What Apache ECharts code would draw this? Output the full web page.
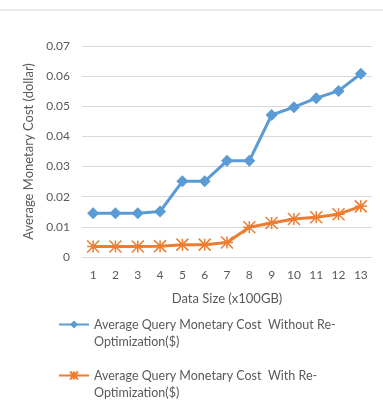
<!DOCTYPE html>
<html>
<head>
<meta charset="utf-8">
<script src="https://cdn.jsdelivr.net/npm/echarts@6/dist/echarts.min.js"></script>
<style>
  html, body { margin: 0; padding: 0; background: #fff; }
  #chart { width: 383px; height: 418px; }
</style>
</head>
<body>
<div id="chart"></div>
<script>
const sizes = ["1", "2", "3", "4", "5", "6", "7", "8", "9", "10", "11", "12", "13"];
const withoutReopt = [0.0145, 0.0145, 0.0145, 0.0151, 0.0251, 0.0251, 0.0319, 0.0319, 0.0471, 0.0497, 0.0527, 0.0551, 0.0608];
const withReopt = [0.0035, 0.0035, 0.0035, 0.0036, 0.0041, 0.0041, 0.0048, 0.0099, 0.0113, 0.0126, 0.0132, 0.0142, 0.0168];
const seriesNames = [
  "Average Query Monetary Cost  Without Re-\nOptimization($)",
  "Average Query Monetary Cost  With Re-\nOptimization($)",
];

const chart = echarts.init(document.getElementById("chart"));
const textColor = "#595959";
const font = "Lato, 'Open Sans', sans-serif";
const star = "path://M0,0L10,10M10,0L0,10M5,0L5,10M0,5L10,5";

chart.setOption({
  animation: false,
  backgroundColor: "#fff",
  textStyle: { fontFamily: font, color: textColor },
  graphic: [{
    type: "line",
    shape: { x1: 0, y1: 10, x2: 383, y2: 10 },
    style: { stroke: "#d9d9d9", lineWidth: 1 },
  }],
  grid: { left: 82, right: 11, top: 46, bottom: 161 },
  xAxis: {
    type: "category",
    data: sizes,
    boundaryGap: true,
    name: "Data Size (x100GB)",
    nameLocation: "middle",
    nameGap: 35,
    nameTextStyle: { fontSize: 13, color: textColor, fontFamily: font },
    axisLine: { lineStyle: { color: "#d9d9d9" } },
    axisTick: { show: false },
    axisLabel: { fontSize: 12, color: textColor, margin: 12, fontFamily: font },
  },
  yAxis: {
    type: "value",
    min: 0,
    max: 0.07,
    interval: 0.01,
    name: "Average Monetary Cost (dollar)",
    nameLocation: "middle",
    nameGap: 43,
    nameTextStyle: { fontSize: 13, color: textColor, fontFamily: font },
    axisLine: { show: false },
    axisTick: { show: false },
    splitLine: { lineStyle: { color: "#d9d9d9" } },
    axisLabel: { fontSize: 12, color: textColor, margin: 12, fontFamily: font,
      formatter: v => v === 0 ? "0" : v.toFixed(2) },
  },
  legend: {
    orient: "vertical",
    left: 53,
    top: 294,
    itemWidth: 30,
    itemHeight: 10,
    itemGap: 0,
    // leading blank line keeps the icon level with the first text line
    formatter: name => "\n" + name,
    textStyle: { fontSize: 12.5, color: textColor, fontFamily: font, lineHeight: 17 },
    data: seriesNames,
  },
  series: [
    {
      name: seriesNames[0],
      type: "line",
      data: withoutReopt,
      symbol: "diamond",
      symbolSize: 12,
      lineStyle: { color: "#5B9BD5", width: 3 },
      itemStyle: { color: "#5B9BD5" },
    },
    {
      name: seriesNames[1],
      type: "line",
      data: withReopt,
      symbol: star,
      symbolSize: 12,
      lineStyle: { color: "#ED7D31", width: 3 },
      itemStyle: { color: "#ED7D31", borderColor: "#ED7D31", borderWidth: 1.5 },
    },
  ],
});
</script>
</body>
</html>
